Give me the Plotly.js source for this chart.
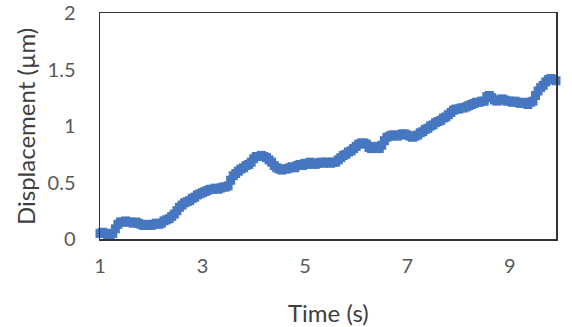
<!DOCTYPE html>
<html>
<head>
<meta charset="utf-8">
<script src="https://cdn.plot.ly/plotly-3.0.1.min.js"></script>
<style>
  html, body { margin: 0; padding: 0; background: #fff; }
  #chart { width: 572px; height: 327px; }
</style>
</head>
<body>
<div id="chart"></div>
<script>
// Sample times (s)
const time = [
  1.00,1.05,1.10,1.15,1.20,1.25,1.30,1.35,1.40,1.45,
  1.50,1.55,1.60,1.65,1.70,1.75,1.80,1.85,1.90,1.95,
  2.00,2.05,2.10,2.15,2.20,2.25,2.30,2.35,2.40,2.45,
  2.50,2.55,2.60,2.65,2.70,2.75,2.80,2.85,2.90,2.95,
  3.00,3.05,3.10,3.15,3.20,3.25,3.30,3.35,3.40,3.45,
  3.50,3.55,3.60,3.65,3.70,3.75,3.80,3.85,3.90,3.95,
  4.00,4.05,4.10,4.15,4.20,4.25,4.30,4.35,4.40,4.45,
  4.50,4.55,4.60,4.65,4.70,4.75,4.80,4.85,4.90,4.95,
  5.00,5.05,5.10,5.15,5.20,5.25,5.30,5.35,5.40,5.45,
  5.50,5.55,5.60,5.65,5.70,5.75,5.80,5.85,5.90,5.95,
  6.00,6.05,6.10,6.15,6.20,6.25,6.30,6.35,6.40,6.45,
  6.50,6.55,6.60,6.65,6.70,6.75,6.80,6.85,6.90,6.95,
  7.00,7.05,7.10,7.15,7.20,7.25,7.30,7.35,7.40,7.45,
  7.50,7.55,7.60,7.65,7.70,7.75,7.80,7.85,7.90,7.95,
  8.00,8.05,8.10,8.15,8.20,8.25,8.30,8.35,8.40,8.45,
  8.50,8.55,8.60,8.65,8.70,8.75,8.80,8.85,8.90,8.95,
  9.00,9.05,9.10,9.15,9.20,9.25,9.30,9.35,9.40,9.45,
  9.50,9.55,9.60,9.65,9.70,9.75,9.80,9.85,9.90
];

// Measured displacement (µm)
const displacement = [
  0.05,0.06,0.05,0.04,0.03,0.05,0.09,0.13,0.15,0.15,
  0.16,0.15,0.15,0.14,0.15,0.14,0.13,0.12,0.12,0.13,
  0.12,0.13,0.14,0.13,0.14,0.16,0.17,0.18,0.20,0.22,
  0.25,0.28,0.30,0.32,0.33,0.34,0.36,0.37,0.39,0.40,
  0.41,0.42,0.43,0.44,0.44,0.45,0.44,0.45,0.46,0.46,
  0.47,0.52,0.56,0.58,0.60,0.62,0.63,0.65,0.66,0.68,
  0.71,0.73,0.73,0.74,0.73,0.72,0.70,0.68,0.65,0.63,
  0.62,0.61,0.62,0.62,0.63,0.64,0.63,0.65,0.66,0.65,
  0.67,0.66,0.68,0.67,0.66,0.67,0.68,0.67,0.68,0.68,
  0.67,0.68,0.68,0.70,0.72,0.74,0.75,0.77,0.78,0.80,
  0.82,0.84,0.85,0.85,0.84,0.81,0.80,0.82,0.81,0.80,
  0.83,0.87,0.90,0.91,0.92,0.92,0.91,0.92,0.93,0.93,
  0.92,0.91,0.90,0.91,0.92,0.94,0.95,0.97,0.98,1.00,
  1.01,1.03,1.04,1.05,1.07,1.08,1.10,1.12,1.14,1.15,
  1.15,1.16,1.16,1.17,1.18,1.19,1.20,1.21,1.21,1.22,
  1.22,1.26,1.27,1.25,1.23,1.22,1.23,1.24,1.23,1.22,
  1.22,1.21,1.22,1.21,1.20,1.21,1.20,1.19,1.21,1.22,
  1.27,1.31,1.34,1.36,1.39,1.41,1.42,1.41,1.40
];

const xTicks = [1, 3, 5, 7, 9];
const yTicks = [0, 0.5, 1, 1.5, 2];
const yTickText = ['0', '0.5', '1', '1.5', '2'];
const xTitle = 'Time (s)';
const yTitle = 'Displacement (µm)';

const tickGray = '#595959';
const titleGray = '#404040';
const frame = '#333333';
const fontFamily = 'Lato, "Open Sans", sans-serif';

// Plot area geometry (px)
const W = 572, H = 327;
const M = { l: 100, r: 16, t: 13, b: 88 };
const plotW = W - M.l - M.r;
const plotH = H - M.t - M.b;

const trace = {
  x: time,
  y: displacement,
  type: 'scatter',
  mode: 'markers',
  cliponaxis: false,
  marker: { symbol: 'square', size: 9, color: '#4677C0', line: { width: 0 } },
  hoverinfo: 'skip'
};

// Invisible tick marks are used purely as spacers between axis and labels
const axisCommon = {
  showgrid: false,
  zeroline: false,
  showline: true,
  mirror: true,
  linecolor: frame,
  linewidth: 1.5,
  ticks: 'outside',
  tickcolor: 'rgba(0,0,0,0)',
  tickfont: { family: fontFamily, color: tickGray, size: 20 }
};

const layout = {
  width: W,
  height: H,
  margin: M,
  paper_bgcolor: '#ffffff',
  plot_bgcolor: '#ffffff',
  showlegend: false,
  font: { family: fontFamily, color: tickGray, size: 20 },
  xaxis: Object.assign({}, axisCommon, {
    range: [1, 9.9],
    tickvals: xTicks,
    ticktext: xTicks.map(String),
    ticklen: 8
  }),
  yaxis: Object.assign({}, axisCommon, {
    range: [0, 2],
    tickvals: yTicks,
    ticktext: yTickText,
    ticklen: 19
  }),
  annotations: [
    {
      // axis titles, placed in pixel terms relative to the plot area
      text: xTitle,
      xref: 'paper', yref: 'paper',
      x: (328 - M.l) / plotW,
      y: -(312 - (M.t + plotH)) / plotH,
      xanchor: 'center', yanchor: 'middle',
      showarrow: false,
      font: { family: fontFamily, color: titleGray, size: 24 }
    },
    {
      text: yTitle,
      xref: 'paper', yref: 'paper',
      x: (25 - M.l) / plotW,
      y: 1 - (127 - M.t) / plotH,
      xanchor: 'center', yanchor: 'middle',
      textangle: -90,
      showarrow: false,
      font: { family: fontFamily, color: titleGray, size: 24 }
    }
  ]
};

Plotly.newPlot('chart', [trace], layout, { displayModeBar: false, staticPlot: true });
</script>
</body>
</html>
